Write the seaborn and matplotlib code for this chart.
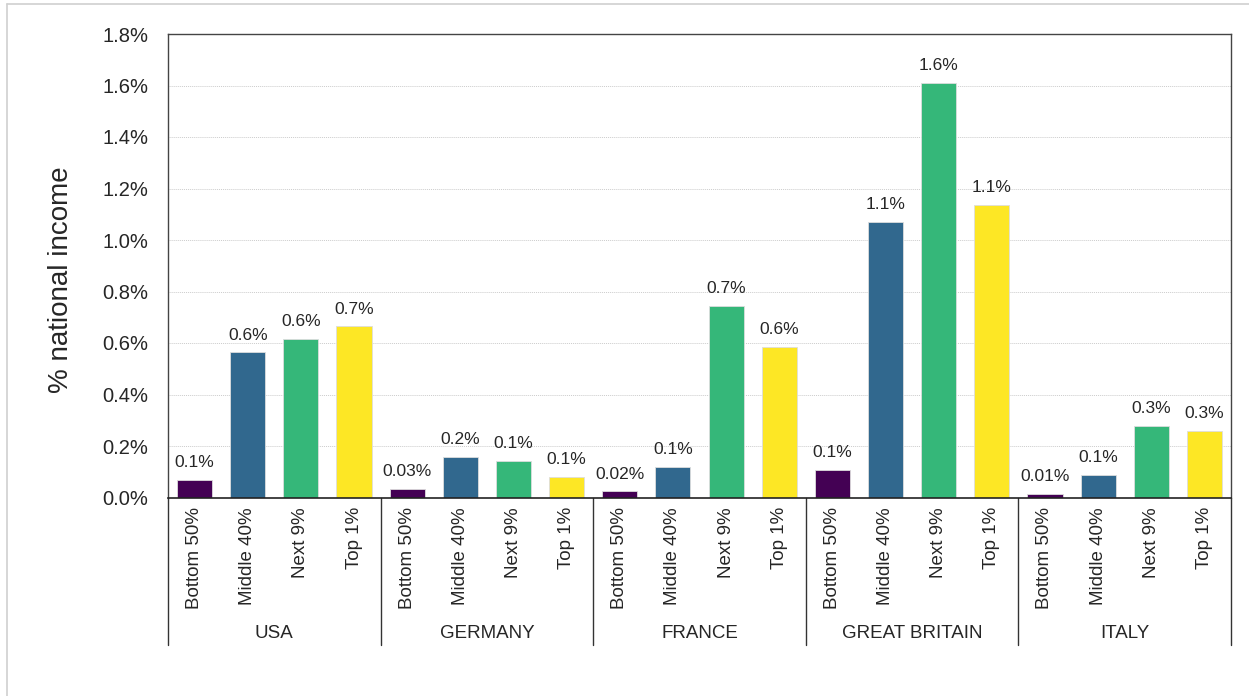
import matplotlib
matplotlib.use("Agg")
import matplotlib.pyplot as plt
import matplotlib.transforms as mtransforms
from matplotlib.lines import Line2D
import seaborn as sns
import pandas as pd
import numpy as np

countries = ["USA", "GERMANY", "FRANCE", "GREAT BRITAIN", "ITALY"]
groups = ["Bottom 50%", "Middle 40%", "Next 9%", "Top 1%"]
usa = [0.068, 0.564, 0.616, 0.665]
germany = [0.033, 0.158, 0.142, 0.080]
france = [0.024, 0.118, 0.744, 0.584]
great_britain = [0.106, 1.070, 1.610, 1.136]
italy = [0.014, 0.089, 0.278, 0.258]
colors = ["#440154", "#31688e", "#35b779", "#fde725"]
yticks = [0.0, 0.2, 0.4, 0.6, 0.8, 1.0, 1.2, 1.4, 1.6, 1.8]

series = [usa, germany, france, great_britain, italy]
rows = []
for c, vals in zip(countries, series):
    for g, v in zip(groups, vals):
        rows.append({"country": c, "group": g, "value": v})
df = pd.DataFrame(rows)

sns.set_style("white")
plt.rcParams["font.family"] = ["Liberation Sans", "DejaVu Sans"]

fig = plt.figure(figsize=(12.49, 6.96), dpi=100)
ax = fig.add_axes([168 / 1249, 1 - 497.5 / 696, (1231 - 168) / 1249, (497.5 - 34) / 696])

sns.barplot(data=df, x="country", y="value", hue="group", order=countries,
            hue_order=groups, palette=colors, width=1.0, gap=0.34,
            edgecolor="#dddddd", linewidth=0.6, legend=False, ax=ax, saturation=1)

ax.set_xlim(-0.5, len(countries) - 0.5)
ax.set_ylim(0, 1.8)
ax.set_yticks(yticks)
ax.set_yticklabels([f"{t:.1f}%" for t in yticks], fontsize=14.5)
ax.tick_params(axis="y", length=0, pad=14)
ax.set_ylabel("% national income", fontsize=20)
ax.yaxis.set_label_coords(-0.088, 0.469)
ax.set_xlabel("")

for t in yticks[1:-1]:
    ax.axhline(t, color="#cccccc", linestyle=(0, (1, 1)), linewidth=0.7, zorder=0)

for s in ["left", "top", "right"]:
    ax.spines[s].set_color("#444444")
    ax.spines[s].set_linewidth(1.0)
ax.spines["bottom"].set_color("#222222")
ax.spines["bottom"].set_linewidth(1.2)

# bar labels
for container in ax.containers:
    labels = []
    for v in container.datavalues:
        labels.append(f"{v:.2f}%" if v < 0.05 else f"{v:.1f}%")
    ax.bar_label(container, labels=labels, padding=7, fontsize=12.5)

# category ticks
pos = []
lab = []
for i in range(len(countries)):
    for j, g in enumerate(groups):
        pos.append(i - 0.375 + j * 0.25)
        lab.append(g)
ax.set_xticks(pos)
ax.set_xticklabels(lab, rotation=90, fontsize=13.5, va="top", ha="center")
ax.tick_params(axis="x", length=0, pad=7)

trans = mtransforms.blended_transform_factory(ax.transData, ax.transAxes)
ybot = (497.5 - 645) / 463.5
for k in range(len(countries) + 1):
    ax.plot([k - 0.5, k - 0.5], [0, ybot], color="#333333", linewidth=1.0,
            transform=trans, clip_on=False)
ygrp = (497.5 - 634) / 463.5
for i, c in enumerate(countries):
    ax.text(i, ygrp, c, transform=trans, ha="center", va="center", fontsize=13.5)

# figure border lines
fig.add_artist(Line2D([7 / 1249, 1], [1 - 4 / 696, 1 - 4 / 696], color="#d0d0d0", linewidth=1.2))
fig.add_artist(Line2D([7 / 1249, 7 / 1249], [0, 1 - 4 / 696], color="#d0d0d0", linewidth=1.2))

fig.savefig("out.png", dpi=100)
